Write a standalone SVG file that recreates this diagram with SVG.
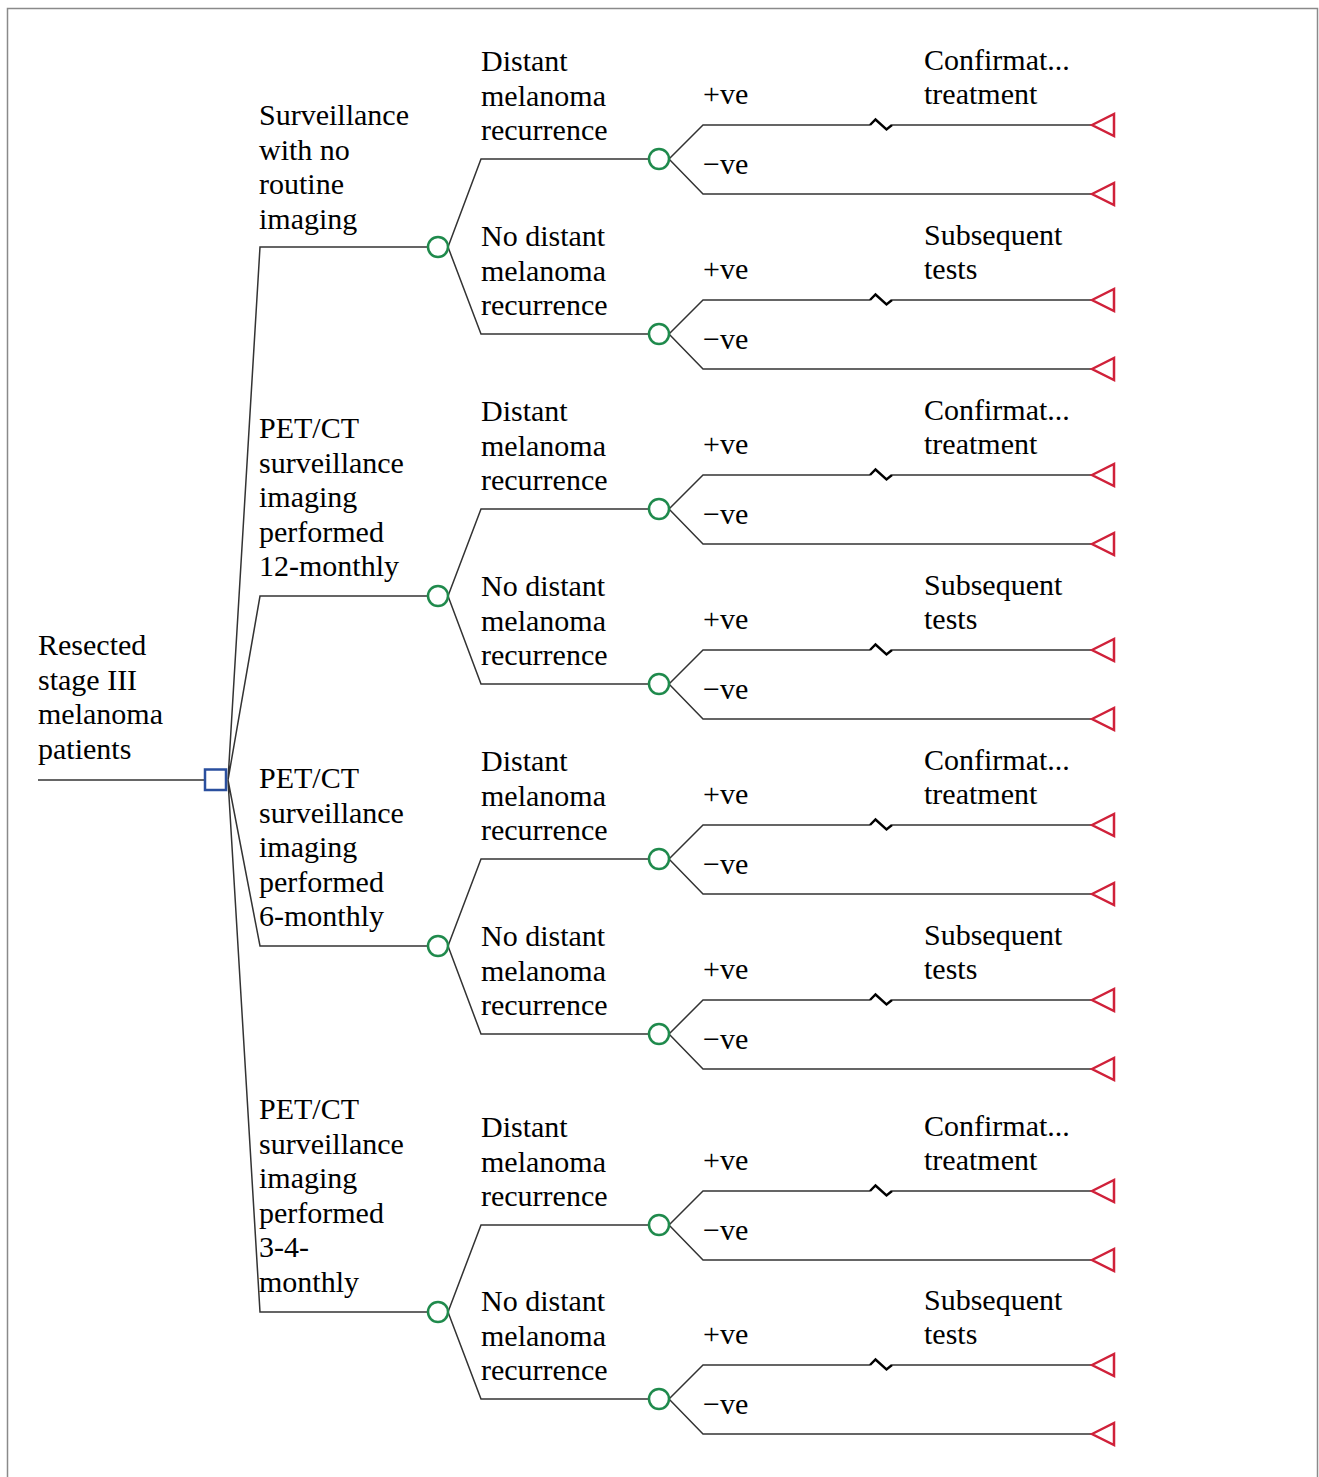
<svg xmlns="http://www.w3.org/2000/svg" width="1319" height="1477" viewBox="0 0 1319 1477">
<style>
text{font-family:"Liberation Serif","Times New Roman",serif;font-size:30px;fill:#000}
.c{fill:none;stroke:#333;stroke-width:1.5}
.ch{fill:#fff;stroke:#1f8a4c;stroke-width:2.5}
.tm{fill:#fff;stroke:#d0213a;stroke-width:2.5;stroke-linejoin:miter}
.dn{fill:#fff;stroke:#2a4f9e;stroke-width:2.5}
.zz{fill:none;stroke:#000;stroke-width:2.4;stroke-linejoin:miter}
</style>
<rect x="7.5" y="8.5" width="1310" height="1480" fill="#fff" stroke="#8a8a8a" stroke-width="1.5"/>
<g id="connectors">
<path class="c" d="M38,780H205"/>
<path class="c" d="M228,780L260,247H428M228,780L260,596H428M228,780L260,946H428M228,780L260,1312H428"/>
<path class="c" d="M448,247L481,159H649M448,247L481,334H649"/>
<path class="c" d="M448,596L481,509H649M448,596L481,684H649"/>
<path class="c" d="M448,946L481,859H649M448,946L481,1034H649"/>
<path class="c" d="M448,1312L481,1225H649M448,1312L481,1399H649"/>
<path class="c" d="M669,159L703,125H870M892,125H1092M669,159L703,194H1092"/>
<path class="c" d="M669,334L703,300H870M892,300H1092M669,334L703,369H1092"/>
<path class="c" d="M669,509L703,475H870M892,475H1092M669,509L703,544H1092"/>
<path class="c" d="M669,684L703,650H870M892,650H1092M669,684L703,719H1092"/>
<path class="c" d="M669,859L703,825H870M892,825H1092M669,859L703,894H1092"/>
<path class="c" d="M669,1034L703,1000H870M892,1000H1092M669,1034L703,1069H1092"/>
<path class="c" d="M669,1225L703,1191H870M892,1191H1092M669,1225L703,1260H1092"/>
<path class="c" d="M669,1399L703,1365H870M892,1365H1092M669,1399L703,1434H1092"/>
<path class="zz" d="M870,125L875.5,119.5L886.5,129.5L892,125"/>
<path class="zz" d="M870,300L875.5,294.5L886.5,304.5L892,300"/>
<path class="zz" d="M870,475L875.5,469.5L886.5,479.5L892,475"/>
<path class="zz" d="M870,650L875.5,644.5L886.5,654.5L892,650"/>
<path class="zz" d="M870,825L875.5,819.5L886.5,829.5L892,825"/>
<path class="zz" d="M870,1000L875.5,994.5L886.5,1004.5L892,1000"/>
<path class="zz" d="M870,1191L875.5,1185.5L886.5,1195.5L892,1191"/>
<path class="zz" d="M870,1365L875.5,1359.5L886.5,1369.5L892,1365"/>
</g>
<g id="root">
<text x="38" y="655">Resected</text><text x="38" y="689.5">stage III</text><text x="38" y="724">melanoma</text><text x="38" y="758.5">patients</text>
<rect class="dn" x="205" y="769.5" width="21" height="20.5"/>
</g>
<g id="s1">
<text x="259" y="125">Surveillance</text><text x="259" y="159.5">with no</text><text x="259" y="194">routine</text><text x="259" y="228.5">imaging</text>
<circle class="ch" cx="438" cy="247" r="10"/>
</g>
<g id="s2">
<text x="259" y="438">PET/CT</text><text x="259" y="472.5">surveillance</text><text x="259" y="507">imaging</text><text x="259" y="541.5">performed</text><text x="259" y="576">12-monthly</text>
<circle class="ch" cx="438" cy="596" r="10"/>
</g>
<g id="s3">
<text x="259" y="788">PET/CT</text><text x="259" y="822.5">surveillance</text><text x="259" y="857">imaging</text><text x="259" y="891.5">performed</text><text x="259" y="926">6-monthly</text>
<circle class="ch" cx="438" cy="946" r="10"/>
</g>
<g id="s4">
<text x="259" y="1119">PET/CT</text><text x="259" y="1153.5">surveillance</text><text x="259" y="1188">imaging</text><text x="259" y="1222.5">performed</text><text x="259" y="1257">3-4-</text><text x="259" y="1291.5">monthly</text>
<circle class="ch" cx="438" cy="1312" r="10"/>
</g>
<g id="s1-dist">
<text x="481" y="71">Distant</text><text x="481" y="105.5">melanoma</text><text x="481" y="140">recurrence</text>
<circle class="ch" cx="659" cy="159" r="10"/>
</g>
<g id="s1-nodist">
<text x="481" y="246">No distant</text><text x="481" y="280.5">melanoma</text><text x="481" y="315">recurrence</text>
<circle class="ch" cx="659" cy="334" r="10"/>
</g>
<g id="s2-dist">
<text x="481" y="421">Distant</text><text x="481" y="455.5">melanoma</text><text x="481" y="490">recurrence</text>
<circle class="ch" cx="659" cy="509" r="10"/>
</g>
<g id="s2-nodist">
<text x="481" y="596">No distant</text><text x="481" y="630.5">melanoma</text><text x="481" y="665">recurrence</text>
<circle class="ch" cx="659" cy="684" r="10"/>
</g>
<g id="s3-dist">
<text x="481" y="771">Distant</text><text x="481" y="805.5">melanoma</text><text x="481" y="840">recurrence</text>
<circle class="ch" cx="659" cy="859" r="10"/>
</g>
<g id="s3-nodist">
<text x="481" y="946">No distant</text><text x="481" y="980.5">melanoma</text><text x="481" y="1015">recurrence</text>
<circle class="ch" cx="659" cy="1034" r="10"/>
</g>
<g id="s4-dist">
<text x="481" y="1137">Distant</text><text x="481" y="1171.5">melanoma</text><text x="481" y="1206">recurrence</text>
<circle class="ch" cx="659" cy="1225" r="10"/>
</g>
<g id="s4-nodist">
<text x="481" y="1311">No distant</text><text x="481" y="1345.5">melanoma</text><text x="481" y="1380">recurrence</text>
<circle class="ch" cx="659" cy="1399" r="10"/>
</g>
<g id="t1p"><text x="703" y="104">+ve</text><text x="924" y="69.5">Confirmat...</text><text x="924" y="104">treatment</text><polygon class="tm" points="1092,125 1114,114 1114,136"/></g>
<g id="t1n"><text x="703" y="174">−ve</text><polygon class="tm" points="1092,194 1114,183 1114,205"/></g>
<g id="t2p"><text x="703" y="279">+ve</text><text x="924" y="244.5">Subsequent</text><text x="924" y="279">tests</text><polygon class="tm" points="1092,300 1114,289 1114,311"/></g>
<g id="t2n"><text x="703" y="349">−ve</text><polygon class="tm" points="1092,369 1114,358 1114,380"/></g>
<g id="t3p"><text x="703" y="454">+ve</text><text x="924" y="419.5">Confirmat...</text><text x="924" y="454">treatment</text><polygon class="tm" points="1092,475 1114,464 1114,486"/></g>
<g id="t3n"><text x="703" y="524">−ve</text><polygon class="tm" points="1092,544 1114,533 1114,555"/></g>
<g id="t4p"><text x="703" y="629">+ve</text><text x="924" y="594.5">Subsequent</text><text x="924" y="629">tests</text><polygon class="tm" points="1092,650 1114,639 1114,661"/></g>
<g id="t4n"><text x="703" y="699">−ve</text><polygon class="tm" points="1092,719 1114,708 1114,730"/></g>
<g id="t5p"><text x="703" y="804">+ve</text><text x="924" y="769.5">Confirmat...</text><text x="924" y="804">treatment</text><polygon class="tm" points="1092,825 1114,814 1114,836"/></g>
<g id="t5n"><text x="703" y="874">−ve</text><polygon class="tm" points="1092,894 1114,883 1114,905"/></g>
<g id="t6p"><text x="703" y="979">+ve</text><text x="924" y="944.5">Subsequent</text><text x="924" y="979">tests</text><polygon class="tm" points="1092,1000 1114,989 1114,1011"/></g>
<g id="t6n"><text x="703" y="1049">−ve</text><polygon class="tm" points="1092,1069 1114,1058 1114,1080"/></g>
<g id="t7p"><text x="703" y="1170">+ve</text><text x="924" y="1135.5">Confirmat...</text><text x="924" y="1170">treatment</text><polygon class="tm" points="1092,1191 1114,1180 1114,1202"/></g>
<g id="t7n"><text x="703" y="1240">−ve</text><polygon class="tm" points="1092,1260 1114,1249 1114,1271"/></g>
<g id="t8p"><text x="703" y="1344">+ve</text><text x="924" y="1309.5">Subsequent</text><text x="924" y="1344">tests</text><polygon class="tm" points="1092,1365 1114,1354 1114,1376"/></g>
<g id="t8n"><text x="703" y="1414">−ve</text><polygon class="tm" points="1092,1434 1114,1423 1114,1445"/></g>
</svg>
